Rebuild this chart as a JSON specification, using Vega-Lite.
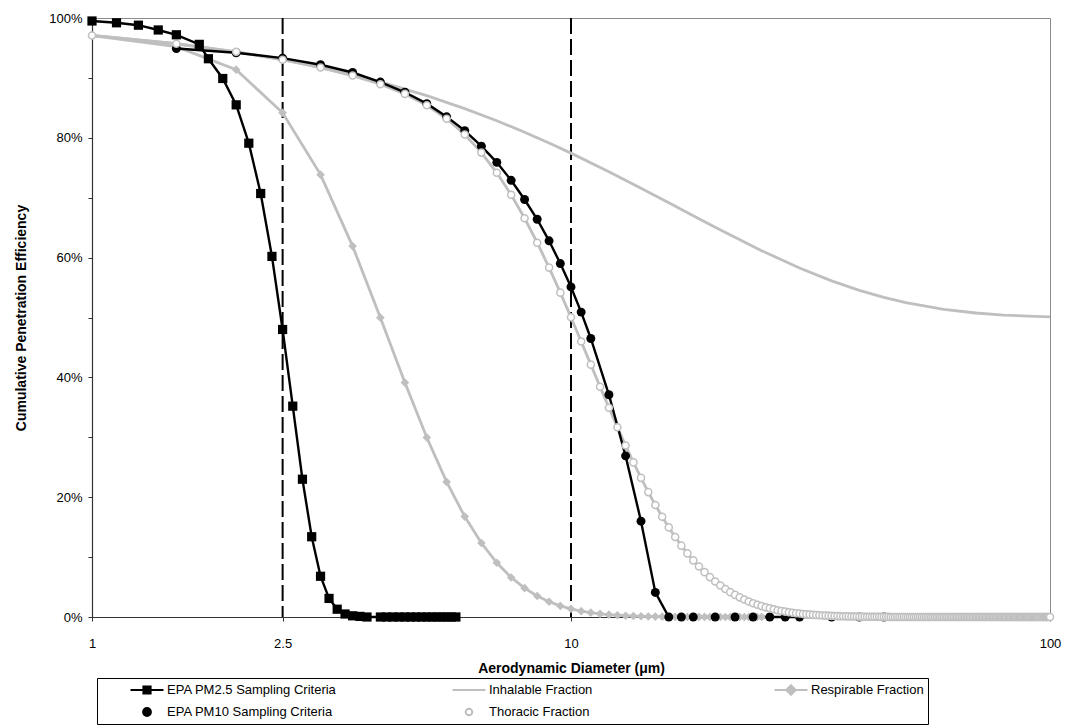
{
  "$schema": "https://vega.github.io/schema/vega-lite/v6.json",
  "width": 958,
  "height": 599,
  "autosize": {"type": "none"},
  "padding": {"left": 92, "top": 18, "right": 16, "bottom": 108},
  "background": "white",
  "config": {
    "font": "Liberation Sans",
    "view": {"stroke": "#8c8c8c", "strokeWidth": 1},
    "axis": {"grid": false, "labelColor": "black", "titleColor": "black", "labelFont": "Liberation Sans", "titleFont": "Liberation Sans", "domainColor": "#333333", "tickColor": "#333333", "domainWidth": 1.2, "tickWidth": 1},
    "legend": {
      "title": null, "orient": "none", "legendX": 5, "legendY": 660, "direction": "horizontal", "columns": 3, "gridAlign": "all", "columnPadding": 86, "rowPadding": 6, "padding": 4, "strokeColor": "black", "fillColor": "white",
      "labelFontSize": 13, "labelColor": "black", "labelLimit": 300, "labelOffset": 4, "symbolSize": 3600, "symbolStrokeWidth": 2, "clipHeight": 16, "symbolOpacity": 1
    }
  },
  "datasets": {
    "cuts": [{"d": 2.5}, {"d": 10}],
    "curves": [
      {"series": "Inhalable Fraction", "d": 1, "eff": 0.9709},
      {"series": "Inhalable Fraction", "d": 1.5, "eff": 0.9570},
      {"series": "Inhalable Fraction", "d": 2, "eff": 0.9435},
      {"series": "Inhalable Fraction", "d": 2.5, "eff": 0.9304},
      {"series": "Inhalable Fraction", "d": 3, "eff": 0.9176},
      {"series": "Inhalable Fraction", "d": 4, "eff": 0.8933},
      {"series": "Inhalable Fraction", "d": 5, "eff": 0.8704},
      {"series": "Inhalable Fraction", "d": 6, "eff": 0.8488},
      {"series": "Inhalable Fraction", "d": 7, "eff": 0.8285},
      {"series": "Inhalable Fraction", "d": 8, "eff": 0.8094},
      {"series": "Inhalable Fraction", "d": 9, "eff": 0.7914},
      {"series": "Inhalable Fraction", "d": 10, "eff": 0.7744},
      {"series": "Inhalable Fraction", "d": 12, "eff": 0.7434},
      {"series": "Inhalable Fraction", "d": 14, "eff": 0.7159},
      {"series": "Inhalable Fraction", "d": 16, "eff": 0.6914},
      {"series": "Inhalable Fraction", "d": 18, "eff": 0.6698},
      {"series": "Inhalable Fraction", "d": 20, "eff": 0.6506},
      {"series": "Inhalable Fraction", "d": 25, "eff": 0.6116},
      {"series": "Inhalable Fraction", "d": 30, "eff": 0.5826},
      {"series": "Inhalable Fraction", "d": 35, "eff": 0.5612},
      {"series": "Inhalable Fraction", "d": 40, "eff": 0.5454},
      {"series": "Inhalable Fraction", "d": 45, "eff": 0.5336},
      {"series": "Inhalable Fraction", "d": 50, "eff": 0.5249},
      {"series": "Inhalable Fraction", "d": 60, "eff": 0.5137},
      {"series": "Inhalable Fraction", "d": 70, "eff": 0.5075},
      {"series": "Inhalable Fraction", "d": 80, "eff": 0.5041},
      {"series": "Inhalable Fraction", "d": 90, "eff": 0.5023},
      {"series": "Inhalable Fraction", "d": 100, "eff": 0.5012},
      {"series": "Respirable Fraction", "d": 1, "eff": 0.9707},
      {"series": "Respirable Fraction", "d": 1.5, "eff": 0.9521},
      {"series": "Respirable Fraction", "d": 2, "eff": 0.9137},
      {"series": "Respirable Fraction", "d": 2.5, "eff": 0.8417},
      {"series": "Respirable Fraction", "d": 3, "eff": 0.7385},
      {"series": "Respirable Fraction", "d": 3.5, "eff": 0.6192},
      {"series": "Respirable Fraction", "d": 4, "eff": 0.4997},
      {"series": "Respirable Fraction", "d": 4.5, "eff": 0.3914},
      {"series": "Respirable Fraction", "d": 5, "eff": 0.2997},
      {"series": "Respirable Fraction", "d": 5.5, "eff": 0.2255},
      {"series": "Respirable Fraction", "d": 6, "eff": 0.1677},
      {"series": "Respirable Fraction", "d": 6.5, "eff": 0.1235},
      {"series": "Respirable Fraction", "d": 7, "eff": 0.0905},
      {"series": "Respirable Fraction", "d": 7.5, "eff": 0.0660},
      {"series": "Respirable Fraction", "d": 8, "eff": 0.0481},
      {"series": "Respirable Fraction", "d": 8.5, "eff": 0.0350},
      {"series": "Respirable Fraction", "d": 9, "eff": 0.0254},
      {"series": "Respirable Fraction", "d": 9.5, "eff": 0.0185},
      {"series": "Respirable Fraction", "d": 10, "eff": 0.0135},
      {"series": "Respirable Fraction", "d": 10.5, "eff": 0.0098},
      {"series": "Respirable Fraction", "d": 11, "eff": 0.0072},
      {"series": "Respirable Fraction", "d": 11.5, "eff": 0.0053},
      {"series": "Respirable Fraction", "d": 12, "eff": 0.0039},
      {"series": "Respirable Fraction", "d": 12.5, "eff": 0.0029},
      {"series": "Respirable Fraction", "d": 13, "eff": 0.0021},
      {"series": "Respirable Fraction", "d": 13.5, "eff": 0.0016},
      {"series": "Respirable Fraction", "d": 14, "eff": 0.0012},
      {"series": "Respirable Fraction", "d": 14.5, "eff": 0.0009},
      {"series": "Respirable Fraction", "d": 15, "eff": 0.0007},
      {"series": "Respirable Fraction", "d": 15.5, "eff": 0.0005},
      {"series": "Respirable Fraction", "d": 16, "eff": 0.0004},
      {"series": "Respirable Fraction", "d": 16.5, "eff": 0.0003},
      {"series": "Respirable Fraction", "d": 17, "eff": 0.0002},
      {"series": "Respirable Fraction", "d": 17.5, "eff": 0.0002},
      {"series": "Respirable Fraction", "d": 18, "eff": 0.0001},
      {"series": "Respirable Fraction", "d": 18.5, "eff": 0.0001},
      {"series": "Respirable Fraction", "d": 19, "eff": 0.0001},
      {"series": "Respirable Fraction", "d": 19.5, "eff": 0},
      {"series": "Respirable Fraction", "d": 20, "eff": 0},
      {"series": "Respirable Fraction", "d": 20.5, "eff": 0},
      {"series": "Respirable Fraction", "d": 21, "eff": 0},
      {"series": "Respirable Fraction", "d": 21.5, "eff": 0},
      {"series": "Respirable Fraction", "d": 22, "eff": 0},
      {"series": "Respirable Fraction", "d": 22.5, "eff": 0},
      {"series": "Respirable Fraction", "d": 23, "eff": 0},
      {"series": "Respirable Fraction", "d": 23.5, "eff": 0},
      {"series": "Respirable Fraction", "d": 24, "eff": 0},
      {"series": "Respirable Fraction", "d": 24.5, "eff": 0},
      {"series": "Respirable Fraction", "d": 25, "eff": 0},
      {"series": "EPA PM10 Sampling Criteria", "d": 1.5, "eff": 0.949},
      {"series": "EPA PM10 Sampling Criteria", "d": 2, "eff": 0.942},
      {"series": "EPA PM10 Sampling Criteria", "d": 2.5, "eff": 0.933},
      {"series": "EPA PM10 Sampling Criteria", "d": 3, "eff": 0.922},
      {"series": "EPA PM10 Sampling Criteria", "d": 3.5, "eff": 0.909},
      {"series": "EPA PM10 Sampling Criteria", "d": 4, "eff": 0.893},
      {"series": "EPA PM10 Sampling Criteria", "d": 4.5, "eff": 0.876},
      {"series": "EPA PM10 Sampling Criteria", "d": 5, "eff": 0.857},
      {"series": "EPA PM10 Sampling Criteria", "d": 5.5, "eff": 0.835},
      {"series": "EPA PM10 Sampling Criteria", "d": 6, "eff": 0.812},
      {"series": "EPA PM10 Sampling Criteria", "d": 6.5, "eff": 0.786},
      {"series": "EPA PM10 Sampling Criteria", "d": 7, "eff": 0.759},
      {"series": "EPA PM10 Sampling Criteria", "d": 7.5, "eff": 0.729},
      {"series": "EPA PM10 Sampling Criteria", "d": 8, "eff": 0.697},
      {"series": "EPA PM10 Sampling Criteria", "d": 8.5, "eff": 0.664},
      {"series": "EPA PM10 Sampling Criteria", "d": 9, "eff": 0.628},
      {"series": "EPA PM10 Sampling Criteria", "d": 9.5, "eff": 0.590},
      {"series": "EPA PM10 Sampling Criteria", "d": 10, "eff": 0.551},
      {"series": "EPA PM10 Sampling Criteria", "d": 10.5, "eff": 0.509},
      {"series": "EPA PM10 Sampling Criteria", "d": 11, "eff": 0.465},
      {"series": "EPA PM10 Sampling Criteria", "d": 12, "eff": 0.371},
      {"series": "EPA PM10 Sampling Criteria", "d": 13, "eff": 0.269},
      {"series": "EPA PM10 Sampling Criteria", "d": 14, "eff": 0.160},
      {"series": "EPA PM10 Sampling Criteria", "d": 15, "eff": 0.041},
      {"series": "EPA PM10 Sampling Criteria", "d": 16, "eff": 0},
      {"series": "EPA PM10 Sampling Criteria", "d": 17, "eff": 0},
      {"series": "EPA PM10 Sampling Criteria", "d": 18, "eff": 0},
      {"series": "EPA PM10 Sampling Criteria", "d": 20, "eff": 0},
      {"series": "EPA PM10 Sampling Criteria", "d": 22, "eff": 0},
      {"series": "EPA PM10 Sampling Criteria", "d": 24, "eff": 0},
      {"series": "EPA PM10 Sampling Criteria", "d": 26, "eff": 0},
      {"series": "EPA PM10 Sampling Criteria", "d": 28, "eff": 0},
      {"series": "EPA PM10 Sampling Criteria", "d": 30, "eff": 0},
      {"series": "EPA PM10 Sampling Criteria", "d": 35, "eff": 0},
      {"series": "EPA PM10 Sampling Criteria", "d": 40, "eff": 0},
      {"series": "EPA PM10 Sampling Criteria", "d": 45, "eff": 0},
      {"series": "Thoracic Fraction", "d": 1, "eff": 0.9709},
      {"series": "Thoracic Fraction", "d": 1.5, "eff": 0.9570},
      {"series": "Thoracic Fraction", "d": 2, "eff": 0.9435},
      {"series": "Thoracic Fraction", "d": 2.5, "eff": 0.9303},
      {"series": "Thoracic Fraction", "d": 3, "eff": 0.9173},
      {"series": "Thoracic Fraction", "d": 3.5, "eff": 0.9039},
      {"series": "Thoracic Fraction", "d": 4, "eff": 0.8895},
      {"series": "Thoracic Fraction", "d": 4.5, "eff": 0.8733},
      {"series": "Thoracic Fraction", "d": 5, "eff": 0.8542},
      {"series": "Thoracic Fraction", "d": 5.5, "eff": 0.8318},
      {"series": "Thoracic Fraction", "d": 6, "eff": 0.8054},
      {"series": "Thoracic Fraction", "d": 6.5, "eff": 0.7753},
      {"series": "Thoracic Fraction", "d": 7, "eff": 0.7416},
      {"series": "Thoracic Fraction", "d": 7.5, "eff": 0.7048},
      {"series": "Thoracic Fraction", "d": 8, "eff": 0.6657},
      {"series": "Thoracic Fraction", "d": 8.5, "eff": 0.6249},
      {"series": "Thoracic Fraction", "d": 9, "eff": 0.5833},
      {"series": "Thoracic Fraction", "d": 9.5, "eff": 0.5415},
      {"series": "Thoracic Fraction", "d": 10, "eff": 0.5003},
      {"series": "Thoracic Fraction", "d": 10.5, "eff": 0.4600},
      {"series": "Thoracic Fraction", "d": 11, "eff": 0.4213},
      {"series": "Thoracic Fraction", "d": 11.5, "eff": 0.3843},
      {"series": "Thoracic Fraction", "d": 12, "eff": 0.3494},
      {"series": "Thoracic Fraction", "d": 12.5, "eff": 0.3167},
      {"series": "Thoracic Fraction", "d": 13, "eff": 0.2863},
      {"series": "Thoracic Fraction", "d": 13.5, "eff": 0.2581},
      {"series": "Thoracic Fraction", "d": 14, "eff": 0.2323},
      {"series": "Thoracic Fraction", "d": 14.5, "eff": 0.2085},
      {"series": "Thoracic Fraction", "d": 15, "eff": 0.1869},
      {"series": "Thoracic Fraction", "d": 15.5, "eff": 0.1673},
      {"series": "Thoracic Fraction", "d": 16, "eff": 0.1496},
      {"series": "Thoracic Fraction", "d": 16.5, "eff": 0.1336},
      {"series": "Thoracic Fraction", "d": 17, "eff": 0.1191},
      {"series": "Thoracic Fraction", "d": 17.5, "eff": 0.1062},
      {"series": "Thoracic Fraction", "d": 18, "eff": 0.0945},
      {"series": "Thoracic Fraction", "d": 18.5, "eff": 0.0842},
      {"series": "Thoracic Fraction", "d": 19, "eff": 0.0749},
      {"series": "Thoracic Fraction", "d": 19.5, "eff": 0.0666},
      {"series": "Thoracic Fraction", "d": 20, "eff": 0.0592},
      {"series": "Thoracic Fraction", "d": 20.5, "eff": 0.0526},
      {"series": "Thoracic Fraction", "d": 21, "eff": 0.0467},
      {"series": "Thoracic Fraction", "d": 21.5, "eff": 0.0415},
      {"series": "Thoracic Fraction", "d": 22, "eff": 0.0369},
      {"series": "Thoracic Fraction", "d": 22.5, "eff": 0.0328},
      {"series": "Thoracic Fraction", "d": 23, "eff": 0.0291},
      {"series": "Thoracic Fraction", "d": 23.5, "eff": 0.0259},
      {"series": "Thoracic Fraction", "d": 24, "eff": 0.0230},
      {"series": "Thoracic Fraction", "d": 24.5, "eff": 0.0204},
      {"series": "Thoracic Fraction", "d": 25, "eff": 0.0182},
      {"series": "Thoracic Fraction", "d": 25.5, "eff": 0.0161},
      {"series": "Thoracic Fraction", "d": 26, "eff": 0.0144},
      {"series": "Thoracic Fraction", "d": 26.5, "eff": 0.0128},
      {"series": "Thoracic Fraction", "d": 27, "eff": 0.0114},
      {"series": "Thoracic Fraction", "d": 27.5, "eff": 0.0101},
      {"series": "Thoracic Fraction", "d": 28, "eff": 0.0090},
      {"series": "Thoracic Fraction", "d": 28.5, "eff": 0.0080},
      {"series": "Thoracic Fraction", "d": 29, "eff": 0.0072},
      {"series": "Thoracic Fraction", "d": 29.5, "eff": 0.0064},
      {"series": "Thoracic Fraction", "d": 30, "eff": 0.0057},
      {"series": "Thoracic Fraction", "d": 30.5, "eff": 0.0051},
      {"series": "Thoracic Fraction", "d": 31, "eff": 0.0045},
      {"series": "Thoracic Fraction", "d": 31.5, "eff": 0.0040},
      {"series": "Thoracic Fraction", "d": 32, "eff": 0.0036},
      {"series": "Thoracic Fraction", "d": 32.5, "eff": 0.0032},
      {"series": "Thoracic Fraction", "d": 33, "eff": 0.0029},
      {"series": "Thoracic Fraction", "d": 33.5, "eff": 0.0026},
      {"series": "Thoracic Fraction", "d": 34, "eff": 0.0023},
      {"series": "Thoracic Fraction", "d": 34.5, "eff": 0.0021},
      {"series": "Thoracic Fraction", "d": 35, "eff": 0.0019},
      {"series": "Thoracic Fraction", "d": 35.5, "eff": 0.0017},
      {"series": "Thoracic Fraction", "d": 36, "eff": 0.0015},
      {"series": "Thoracic Fraction", "d": 36.5, "eff": 0.0013},
      {"series": "Thoracic Fraction", "d": 37, "eff": 0.0012},
      {"series": "Thoracic Fraction", "d": 37.5, "eff": 0.0011},
      {"series": "Thoracic Fraction", "d": 38, "eff": 0.0010},
      {"series": "Thoracic Fraction", "d": 38.5, "eff": 0.0009},
      {"series": "Thoracic Fraction", "d": 39, "eff": 0.0008},
      {"series": "Thoracic Fraction", "d": 39.5, "eff": 0.0007},
      {"series": "Thoracic Fraction", "d": 40, "eff": 0.0006},
      {"series": "Thoracic Fraction", "d": 40.5, "eff": 0.0006},
      {"series": "Thoracic Fraction", "d": 41, "eff": 0.0005},
      {"series": "Thoracic Fraction", "d": 41.5, "eff": 0.0005},
      {"series": "Thoracic Fraction", "d": 42, "eff": 0.0004},
      {"series": "Thoracic Fraction", "d": 42.5, "eff": 0.0004},
      {"series": "Thoracic Fraction", "d": 43, "eff": 0.0003},
      {"series": "Thoracic Fraction", "d": 43.5, "eff": 0.0003},
      {"series": "Thoracic Fraction", "d": 44, "eff": 0.0003},
      {"series": "Thoracic Fraction", "d": 44.5, "eff": 0.0002},
      {"series": "Thoracic Fraction", "d": 45, "eff": 0.0002},
      {"series": "Thoracic Fraction", "d": 45.5, "eff": 0.0002},
      {"series": "Thoracic Fraction", "d": 46, "eff": 0.0002},
      {"series": "Thoracic Fraction", "d": 46.5, "eff": 0.0001},
      {"series": "Thoracic Fraction", "d": 47, "eff": 0.0001},
      {"series": "Thoracic Fraction", "d": 47.5, "eff": 0.0001},
      {"series": "Thoracic Fraction", "d": 48, "eff": 0.0001},
      {"series": "Thoracic Fraction", "d": 48.5, "eff": 0.0001},
      {"series": "Thoracic Fraction", "d": 49, "eff": 0.0001},
      {"series": "Thoracic Fraction", "d": 49.5, "eff": 0.0001},
      {"series": "Thoracic Fraction", "d": 50, "eff": 0.0001},
      {"series": "Thoracic Fraction", "d": 50.5, "eff": 0},
      {"series": "Thoracic Fraction", "d": 51, "eff": 0},
      {"series": "Thoracic Fraction", "d": 51.5, "eff": 0},
      {"series": "Thoracic Fraction", "d": 52, "eff": 0},
      {"series": "Thoracic Fraction", "d": 52.5, "eff": 0},
      {"series": "Thoracic Fraction", "d": 53, "eff": 0},
      {"series": "Thoracic Fraction", "d": 53.5, "eff": 0},
      {"series": "Thoracic Fraction", "d": 54, "eff": 0},
      {"series": "Thoracic Fraction", "d": 54.5, "eff": 0},
      {"series": "Thoracic Fraction", "d": 55, "eff": 0},
      {"series": "Thoracic Fraction", "d": 55.5, "eff": 0},
      {"series": "Thoracic Fraction", "d": 56, "eff": 0},
      {"series": "Thoracic Fraction", "d": 56.5, "eff": 0},
      {"series": "Thoracic Fraction", "d": 57, "eff": 0},
      {"series": "Thoracic Fraction", "d": 57.5, "eff": 0},
      {"series": "Thoracic Fraction", "d": 58, "eff": 0},
      {"series": "Thoracic Fraction", "d": 58.5, "eff": 0},
      {"series": "Thoracic Fraction", "d": 59, "eff": 0},
      {"series": "Thoracic Fraction", "d": 59.5, "eff": 0},
      {"series": "Thoracic Fraction", "d": 60, "eff": 0},
      {"series": "Thoracic Fraction", "d": 60.5, "eff": 0},
      {"series": "Thoracic Fraction", "d": 61, "eff": 0},
      {"series": "Thoracic Fraction", "d": 61.5, "eff": 0},
      {"series": "Thoracic Fraction", "d": 62, "eff": 0},
      {"series": "Thoracic Fraction", "d": 62.5, "eff": 0},
      {"series": "Thoracic Fraction", "d": 63, "eff": 0},
      {"series": "Thoracic Fraction", "d": 63.5, "eff": 0},
      {"series": "Thoracic Fraction", "d": 64, "eff": 0},
      {"series": "Thoracic Fraction", "d": 64.5, "eff": 0},
      {"series": "Thoracic Fraction", "d": 65, "eff": 0},
      {"series": "Thoracic Fraction", "d": 65.5, "eff": 0},
      {"series": "Thoracic Fraction", "d": 66, "eff": 0},
      {"series": "Thoracic Fraction", "d": 66.5, "eff": 0},
      {"series": "Thoracic Fraction", "d": 67, "eff": 0},
      {"series": "Thoracic Fraction", "d": 67.5, "eff": 0},
      {"series": "Thoracic Fraction", "d": 68, "eff": 0},
      {"series": "Thoracic Fraction", "d": 68.5, "eff": 0},
      {"series": "Thoracic Fraction", "d": 69, "eff": 0},
      {"series": "Thoracic Fraction", "d": 69.5, "eff": 0},
      {"series": "Thoracic Fraction", "d": 70, "eff": 0},
      {"series": "Thoracic Fraction", "d": 70.5, "eff": 0},
      {"series": "Thoracic Fraction", "d": 71, "eff": 0},
      {"series": "Thoracic Fraction", "d": 71.5, "eff": 0},
      {"series": "Thoracic Fraction", "d": 72, "eff": 0},
      {"series": "Thoracic Fraction", "d": 72.5, "eff": 0},
      {"series": "Thoracic Fraction", "d": 73, "eff": 0},
      {"series": "Thoracic Fraction", "d": 73.5, "eff": 0},
      {"series": "Thoracic Fraction", "d": 74, "eff": 0},
      {"series": "Thoracic Fraction", "d": 74.5, "eff": 0},
      {"series": "Thoracic Fraction", "d": 75, "eff": 0},
      {"series": "Thoracic Fraction", "d": 75.5, "eff": 0},
      {"series": "Thoracic Fraction", "d": 76, "eff": 0},
      {"series": "Thoracic Fraction", "d": 76.5, "eff": 0},
      {"series": "Thoracic Fraction", "d": 77, "eff": 0},
      {"series": "Thoracic Fraction", "d": 77.5, "eff": 0},
      {"series": "Thoracic Fraction", "d": 78, "eff": 0},
      {"series": "Thoracic Fraction", "d": 78.5, "eff": 0},
      {"series": "Thoracic Fraction", "d": 79, "eff": 0},
      {"series": "Thoracic Fraction", "d": 79.5, "eff": 0},
      {"series": "Thoracic Fraction", "d": 80, "eff": 0},
      {"series": "Thoracic Fraction", "d": 80.5, "eff": 0},
      {"series": "Thoracic Fraction", "d": 81, "eff": 0},
      {"series": "Thoracic Fraction", "d": 81.5, "eff": 0},
      {"series": "Thoracic Fraction", "d": 82, "eff": 0},
      {"series": "Thoracic Fraction", "d": 82.5, "eff": 0},
      {"series": "Thoracic Fraction", "d": 83, "eff": 0},
      {"series": "Thoracic Fraction", "d": 83.5, "eff": 0},
      {"series": "Thoracic Fraction", "d": 84, "eff": 0},
      {"series": "Thoracic Fraction", "d": 84.5, "eff": 0},
      {"series": "Thoracic Fraction", "d": 85, "eff": 0},
      {"series": "Thoracic Fraction", "d": 85.5, "eff": 0},
      {"series": "Thoracic Fraction", "d": 86, "eff": 0},
      {"series": "Thoracic Fraction", "d": 86.5, "eff": 0},
      {"series": "Thoracic Fraction", "d": 87, "eff": 0},
      {"series": "Thoracic Fraction", "d": 87.5, "eff": 0},
      {"series": "Thoracic Fraction", "d": 88, "eff": 0},
      {"series": "Thoracic Fraction", "d": 88.5, "eff": 0},
      {"series": "Thoracic Fraction", "d": 89, "eff": 0},
      {"series": "Thoracic Fraction", "d": 89.5, "eff": 0},
      {"series": "Thoracic Fraction", "d": 90, "eff": 0},
      {"series": "Thoracic Fraction", "d": 90.5, "eff": 0},
      {"series": "Thoracic Fraction", "d": 91, "eff": 0},
      {"series": "Thoracic Fraction", "d": 91.5, "eff": 0},
      {"series": "Thoracic Fraction", "d": 92, "eff": 0},
      {"series": "Thoracic Fraction", "d": 92.5, "eff": 0},
      {"series": "Thoracic Fraction", "d": 93, "eff": 0},
      {"series": "Thoracic Fraction", "d": 93.5, "eff": 0},
      {"series": "Thoracic Fraction", "d": 94, "eff": 0},
      {"series": "Thoracic Fraction", "d": 94.5, "eff": 0},
      {"series": "Thoracic Fraction", "d": 95, "eff": 0},
      {"series": "Thoracic Fraction", "d": 95.5, "eff": 0},
      {"series": "Thoracic Fraction", "d": 96, "eff": 0},
      {"series": "Thoracic Fraction", "d": 96.5, "eff": 0},
      {"series": "Thoracic Fraction", "d": 97, "eff": 0},
      {"series": "Thoracic Fraction", "d": 97.5, "eff": 0},
      {"series": "Thoracic Fraction", "d": 98, "eff": 0},
      {"series": "Thoracic Fraction", "d": 98.5, "eff": 0},
      {"series": "Thoracic Fraction", "d": 99, "eff": 0},
      {"series": "Thoracic Fraction", "d": 99.5, "eff": 0},
      {"series": "Thoracic Fraction", "d": 100, "eff": 0},
      {"series": "EPA PM2.5 Sampling Criteria", "d": 1, "eff": 0.995},
      {"series": "EPA PM2.5 Sampling Criteria", "d": 1.125, "eff": 0.992},
      {"series": "EPA PM2.5 Sampling Criteria", "d": 1.25, "eff": 0.988},
      {"series": "EPA PM2.5 Sampling Criteria", "d": 1.375, "eff": 0.980},
      {"series": "EPA PM2.5 Sampling Criteria", "d": 1.5, "eff": 0.972},
      {"series": "EPA PM2.5 Sampling Criteria", "d": 1.675, "eff": 0.956},
      {"series": "EPA PM2.5 Sampling Criteria", "d": 1.75, "eff": 0.932},
      {"series": "EPA PM2.5 Sampling Criteria", "d": 1.875, "eff": 0.899},
      {"series": "EPA PM2.5 Sampling Criteria", "d": 2, "eff": 0.855},
      {"series": "EPA PM2.5 Sampling Criteria", "d": 2.125, "eff": 0.791},
      {"series": "EPA PM2.5 Sampling Criteria", "d": 2.25, "eff": 0.707},
      {"series": "EPA PM2.5 Sampling Criteria", "d": 2.375, "eff": 0.602},
      {"series": "EPA PM2.5 Sampling Criteria", "d": 2.5, "eff": 0.480},
      {"series": "EPA PM2.5 Sampling Criteria", "d": 2.625, "eff": 0.352},
      {"series": "EPA PM2.5 Sampling Criteria", "d": 2.75, "eff": 0.230},
      {"series": "EPA PM2.5 Sampling Criteria", "d": 2.875, "eff": 0.134},
      {"series": "EPA PM2.5 Sampling Criteria", "d": 3, "eff": 0.068},
      {"series": "EPA PM2.5 Sampling Criteria", "d": 3.125, "eff": 0.031},
      {"series": "EPA PM2.5 Sampling Criteria", "d": 3.25, "eff": 0.013},
      {"series": "EPA PM2.5 Sampling Criteria", "d": 3.375, "eff": 0.005},
      {"series": "EPA PM2.5 Sampling Criteria", "d": 3.5, "eff": 0.002},
      {"series": "EPA PM2.5 Sampling Criteria", "d": 3.625, "eff": 0.001},
      {"series": "EPA PM2.5 Sampling Criteria", "d": 3.75, "eff": 0},
      {"series": "EPA PM2.5 Sampling Criteria", "d": 4, "eff": 0},
      {"series": "EPA PM2.5 Sampling Criteria", "d": 4.125, "eff": 0},
      {"series": "EPA PM2.5 Sampling Criteria", "d": 4.25, "eff": 0},
      {"series": "EPA PM2.5 Sampling Criteria", "d": 4.375, "eff": 0},
      {"series": "EPA PM2.5 Sampling Criteria", "d": 4.5, "eff": 0},
      {"series": "EPA PM2.5 Sampling Criteria", "d": 4.625, "eff": 0},
      {"series": "EPA PM2.5 Sampling Criteria", "d": 4.75, "eff": 0},
      {"series": "EPA PM2.5 Sampling Criteria", "d": 4.875, "eff": 0},
      {"series": "EPA PM2.5 Sampling Criteria", "d": 5, "eff": 0},
      {"series": "EPA PM2.5 Sampling Criteria", "d": 5.125, "eff": 0},
      {"series": "EPA PM2.5 Sampling Criteria", "d": 5.25, "eff": 0},
      {"series": "EPA PM2.5 Sampling Criteria", "d": 5.375, "eff": 0},
      {"series": "EPA PM2.5 Sampling Criteria", "d": 5.5, "eff": 0},
      {"series": "EPA PM2.5 Sampling Criteria", "d": 5.625, "eff": 0},
      {"series": "EPA PM2.5 Sampling Criteria", "d": 5.75, "eff": 0}
    ]
  },
  "encoding": {
    "x": {
      "field": "d", "type": "quantitative",
      "scale": {"type": "log", "domain": [1, 100], "nice": false},
      "axis": {"values": [1, 2.5, 10, 100], "format": "~g", "title": "Aerodynamic Diameter (μm)", "titleFontSize": 14, "titleFontWeight": "bold", "labelFontSize": 13, "tickSize": 4, "labelPadding": 16, "titlePadding": 11, "labelFlush": false}
    },
    "y": {"field": "eff", "type": "quantitative", "scale": {"domain": [0, 1], "nice": false},
      "axis": {"values": [0, 0.1, 0.2, 0.3, 0.4, 0.5, 0.6, 0.7, 0.8, 0.9, 1], "labelExpr": "round(datum.value*100) % 20 === 0 ? format(datum.value, '.0%') : ''", "title": "Cumulative Penetration Efficiency", "titleFontSize": 14, "titleFontWeight": "bold", "labelFontSize": 13, "tickSize": 4, "labelPadding": 6, "titlePadding": 20}}
  },
  "layer": [
    {
      "data": {"name": "cuts"},
      "mark": {"type": "rule", "color": "black", "strokeWidth": 2, "strokeDash": [16, 5]},
      "encoding": {"x": {"field": "d", "type": "quantitative"}, "y": null}
    },
    {
      "data": {"name": "curves"},
      "transform": [{"filter": "datum.series === 'Inhalable Fraction' || datum.series === 'Respirable Fraction' || datum.series === 'Thoracic Fraction'"}],
      "mark": {"type": "line", "strokeWidth": 2.8},
      "encoding": {
        "stroke": {"field": "series", "type": "nominal",
          "scale": {"domain": ["EPA PM2.5 Sampling Criteria", "Inhalable Fraction", "Respirable Fraction", "EPA PM10 Sampling Criteria", "Thoracic Fraction"], "range": ["black", "#bfbfbf", "#bfbfbf", "black", "#bfbfbf"]},
          "legend": {
            "encoding": {"symbols": {
              "shape": {"value": {"expr": "datum.value === 'EPA PM2.5 Sampling Criteria' ? 'M-0.05,0H1.05M0.38,-0.12H0.62V0.12H0.38Z' : datum.value === 'Inhalable Fraction' ? 'M-0.05,0H1.05' : datum.value === 'Respirable Fraction' ? 'M-0.05,0H1.05M0.5,-0.16L0.66,0L0.5,0.16L0.34,0Z' : datum.value === 'EPA PM10 Sampling Criteria' ? 'M0.37,0A0.13,0.13,0,1,0,0.63,0A0.13,0.13,0,1,0,0.37,0Z' : 'M0.39,0A0.11,0.11,0,1,0,0.61,0A0.11,0.11,0,1,0,0.39,0Z'"}},
              "fill": {"value": {"expr": "datum.value === 'Thoracic Fraction' ? 'white' : (datum.value === 'EPA PM2.5 Sampling Criteria' || datum.value === 'EPA PM10 Sampling Criteria') ? 'black' : '#bfbfbf'"}},
              "stroke": {"value": {"expr": "(datum.value === 'EPA PM2.5 Sampling Criteria' || datum.value === 'EPA PM10 Sampling Criteria') ? 'black' : '#bfbfbf'"}},
              "strokeWidth": {"value": 2},
              "opacity": {"value": 1}
            }}
          }
        }
      }
    },
    {
      "data": {"name": "curves"},
      "transform": [{"filter": "datum.series === 'EPA PM10 Sampling Criteria' || datum.series === 'EPA PM2.5 Sampling Criteria'"}],
      "mark": {"type": "line", "strokeWidth": 2.4},
      "encoding": {
        "stroke": {"field": "series", "type": "nominal",
          "legend": {
            "encoding": {"symbols": {
              "shape": {"value": {"expr": "datum.value === 'EPA PM2.5 Sampling Criteria' ? 'M-0.05,0H1.05M0.38,-0.12H0.62V0.12H0.38Z' : datum.value === 'Inhalable Fraction' ? 'M-0.05,0H1.05' : datum.value === 'Respirable Fraction' ? 'M-0.05,0H1.05M0.5,-0.16L0.66,0L0.5,0.16L0.34,0Z' : datum.value === 'EPA PM10 Sampling Criteria' ? 'M0.37,0A0.13,0.13,0,1,0,0.63,0A0.13,0.13,0,1,0,0.37,0Z' : 'M0.39,0A0.11,0.11,0,1,0,0.61,0A0.11,0.11,0,1,0,0.39,0Z'"}},
              "fill": {"value": {"expr": "datum.value === 'Thoracic Fraction' ? 'white' : (datum.value === 'EPA PM2.5 Sampling Criteria' || datum.value === 'EPA PM10 Sampling Criteria') ? 'black' : '#bfbfbf'"}},
              "stroke": {"value": {"expr": "(datum.value === 'EPA PM2.5 Sampling Criteria' || datum.value === 'EPA PM10 Sampling Criteria') ? 'black' : '#bfbfbf'"}},
              "strokeWidth": {"value": 2},
              "opacity": {"value": 1}
            }}
          }
        }
      }
    },
    {
      "data": {"name": "curves"},
      "transform": [{"filter": "datum.series === 'Respirable Fraction'"}],
      "mark": {"type": "point", "shape": "diamond", "filled": true, "color": "#bfbfbf", "opacity": 1, "size": 75}
    },
    {
      "data": {"name": "curves"},
      "transform": [{"filter": "datum.series === 'EPA PM10 Sampling Criteria'"}],
      "mark": {"type": "point", "shape": "circle", "filled": true, "color": "black", "opacity": 1, "size": 80}
    },
    {
      "data": {"name": "curves"},
      "transform": [{"filter": "datum.series === 'Thoracic Fraction'"}],
      "mark": {"type": "point", "shape": "circle", "fill": "white", "fillOpacity": 1, "stroke": "#bfbfbf", "strokeWidth": 1.5, "opacity": 1, "size": 50}
    },
    {
      "data": {"name": "curves"},
      "transform": [{"filter": "datum.series === 'EPA PM2.5 Sampling Criteria'"}],
      "mark": {"type": "point", "shape": "square", "filled": true, "color": "black", "opacity": 1, "size": 85}
    }
  ]
}
